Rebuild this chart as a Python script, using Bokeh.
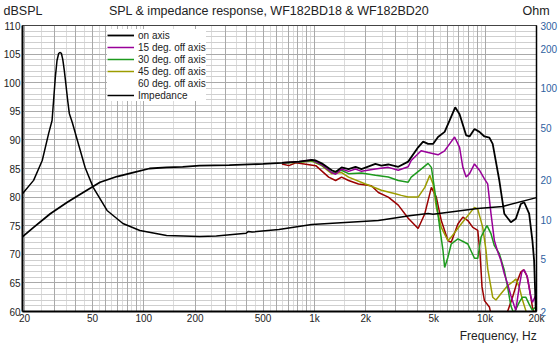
from bokeh.plotting import figure
from bokeh.models import (Range1d, LogScale, LinearScale, LogAxis, LinearAxis, FixedTicker, Grid,
                          Legend, LegendItem, CustomJSTickFormatter)
from bokeh.embed import file_html
from bokeh.resources import INLINE

# ---------------- data ----------------
f_on = [19.5, 22.6, 28.3, 35.6, 44.1, 55.4, 69.6, 86.3, 108, 136, 169, 212, 317, 500, 645, 810,
        964, 1018, 1103, 1261, 1330, 1442, 1584, 1740, 1885, 2275, 2466, 2708, 3098, 3542, 4050,
        4332, 4632, 4952, 5296, 5792, 6194, 6678, 7084, 7738, 8102, 8663, 9262, 9906, 10592,
        11074, 12113, 12954, 14152, 15130, 16182, 16937, 18110, 18928, 19365, 19784, 20000]
spl_on = [73.1, 74.7, 77.1, 79.1, 80.8, 82.6, 83.6, 84.3, 85.0, 85.2, 85.3, 85.5, 85.6, 85.8, 86.0, 86.2,
          86.5, 86.4, 85.9, 84.7, 84.4, 85.2, 84.9, 85.3, 84.9, 85.8, 85.5, 85.7, 85.3, 86.2, 88.7,
          89.7, 89.3, 89.3, 90.5, 91.4, 93.4, 95.7, 94.5, 90.8, 90.6, 91.9, 91.4, 90.6, 90.4,
          89.3, 82.9, 77.1, 75.6, 76.2, 78.8, 79.1, 77.1, 72.4, 68.9, 60.7, 59.0]

f_15 = [645, 810, 964, 1103, 1261, 1330, 1442, 1584, 1740, 1885, 2275, 2708, 3098, 3542, 3689, 4217,
        4632, 5296, 5792, 6194, 6625, 7084, 7404, 7738, 8102, 8663, 9262, 9906, 10351, 10823, 11329,
        11840, 12376, 12954, 13538, 14152, 14810, 15130, 15837, 16400, 16937, 17701, 18354, 18928,
        19784, 20000]
spl_15 = [86.0, 86.2, 86.5, 85.7, 84.3, 84.0, 84.9, 84.5, 84.9, 84.5, 84.9, 85.2, 84.7, 85.3, 86.4, 88.1,
          87.8, 87.4, 88.1, 89.3, 90.5, 88.7, 85.2, 83.5, 84.1, 85.8, 84.7, 83.2, 82.3, 77.1, 72.4,
          70.5, 68.9, 66.6, 64.8, 62.8, 61.0, 60.2, 64.3, 66.9, 67.3, 66.0, 63.1, 61.6,
          62.8, 62.0]

f_30 = [645, 810, 964, 1103, 1261, 1442, 1584, 1885, 2275, 2708, 3098, 3542, 3689, 4217, 4632, 4841,
        5066, 5418, 5662, 5792, 6054, 6328, 6924, 7574, 7919, 8663, 9053, 9464, 9683, 10258, 10823,
        11329, 12113, 12954, 13538, 14152, 14476, 14810, 15837, 16555, 17303, 18110, 18928, 19784, 20000]
spl_30 = [86.0, 86.1, 86.4, 85.6, 84.3, 84.7, 84.1, 84.2, 83.8, 83.5, 82.9, 82.6, 83.5, 84.9, 85.9, 85.2,
          81.2, 74.7, 70.7, 67.7, 69.5, 71.8, 72.7, 72.1, 71.8, 69.3, 69.3, 73.0, 73.6, 75.0, 73.6,
          71.5, 70.1, 67.2, 64.3, 61.0, 60.2, 59.8, 61.6, 62.5, 62.5, 61.3, 60.2, 60.8, 60.5]

f_45 = [645, 810, 964, 1103, 1261, 1442, 1584, 1990, 2466, 2976, 3225, 3542, 4050, 4432, 4738, 4952,
        5177, 5534, 6054, 6328, 7238, 8663, 9053, 9683, 10120, 10351, 11074, 11573, 12376, 13538,
        14810, 15130, 15837, 16555, 17303, 17701]
spl_45 = [86.0, 86.1, 86.3, 85.5, 84.1, 84.3, 83.5, 82.3, 81.2, 80.6, 80.3, 80.0, 80.0, 81.7, 83.8, 82.3,
          78.2, 74.7, 72.4, 73.0, 75.3, 78.2, 77.9, 74.7, 70.7, 67.5, 62.5, 62.0, 63.1, 64.5,
          65.4, 65.7, 64.3, 62.0, 60.2, 59.0]

f_60 = [645, 708, 778, 1018, 1211, 1330, 1442, 1584, 1811, 2156, 2368, 2708, 3098, 3542, 4050, 4432,
        4841, 5177, 5534, 6054, 6328, 6924, 7404, 7919, 8468, 9053, 9337, 9591, 9906, 10592, 11000,
        12000, 13000, 13538, 14476, 15482, 16182, 16778, 17536, 18110, 18928, 19784]
spl_60 = [85.8, 85.5, 86.0, 85.5, 83.5, 82.9, 83.5, 82.9, 82.3, 82.0, 80.8, 80.0, 78.6, 76.3, 74.5, 77.1,
          81.7, 80.0, 75.9, 72.4, 72.1, 75.3, 76.5, 75.9, 74.7, 74.2, 70.1, 64.3, 61.9, 60.8, 58.5,
          56.0, 57.5, 60.0, 62.5, 65.4, 66.9, 67.3, 66.3, 64.3, 60.8, 59.0]

f_imp = [19.5, 22.6, 25.4, 27.7, 29.0, 29.6, 30.3, 31.0, 31.7, 32.2, 32.9, 33.5, 34.2, 34.9, 35.8, 36.6,
         38.1, 41.3, 45.3, 50.5, 60.9, 75.4, 94.8, 136, 212, 266, 398, 410, 431, 619, 964, 2368, 3689,
         4632, 4952, 9053, 12650, 20000]
z_imp = [15.8, 19.9, 28.2, 45.3, 56.8, 80.7, 120.8, 162.6, 183.8, 187.0, 183.8, 165.6, 136.5, 108.7, 80.7, 64.3,
         54.9, 38.0, 24.9, 17.6, 11.74, 9.35, 8.27, 7.57, 7.44, 7.5, 7.89, 8.13, 8.05, 8.41, 9.19, 9.85, 10.75,
         11.14, 11.0, 12.16, 12.6, 14.7]

x_ticks = [20, 50, 100, 200, 500, 1000, 2000, 5000, 10000, 20000]
db_ticks = [60, 65, 70, 75, 80, 85, 90, 95, 100, 105, 110]
ohm_ticks = [2, 5, 10, 20, 50, 100, 200, 300]

labels = ["on axis", "15 deg. off axis", "30 deg. off axis", "45 deg. off axis",
          "60 deg. off axis", "Impedance"]
header_texts = ["dBSPL", "SPL & impedance response, WF182BD18 & WF182BD20", "Ohm"]
x_title = ["Frequency, Hz"]

FONT = "Liberation Sans"
W, H = 560, 345
ML, MR, MT, MB = 22, 21, 25, 34
FW = W - ML - MR

# ---------------- figure ----------------
p = figure(width=W, height=H, x_axis_type="log", title=None,
           x_range=Range1d(19.46, 20000), y_range=Range1d(60, 110),
           output_backend="svg", toolbar_location=None,
           min_border_left=ML, min_border_right=MR, min_border_top=MT, min_border_bottom=MB)
p.grid.visible = False
p.outline_line_color = "#444444"
p.outline_line_width = 1
p.background_fill_color = "white"

p.extra_y_ranges = {"ohm": Range1d(2, 300)}
p.extra_y_scales = {"ohm": LogScale()}
# pixel-like helper range used only to place the header / axis-title texts
p.extra_x_ranges = {"px": Range1d(0, FW)}
p.extra_x_scales = {"px": LinearScale()}

# grids
dark_x = [k * 10 ** n for n in (1, 2, 3, 4) for k in range(1, 10) if 20 <= k * 10 ** n <= 20000]
light_x = [(k + 0.5) * 10 ** n for n in (1, 2, 3, 4) for k in range(1, 10)
           if 20 < (k + 0.5) * 10 ** n < 20000]
p.add_layout(Grid(dimension=0, ticker=FixedTicker(ticks=light_x), grid_line_color="#dcdcdc"))
p.add_layout(Grid(dimension=1, ticker=FixedTicker(ticks=list(range(61, 110))), grid_line_color="#cfcfcf"))
p.add_layout(Grid(dimension=0, ticker=FixedTicker(ticks=dark_x), grid_line_color="#a9a9a9"))
p.add_layout(Grid(dimension=1, ticker=FixedTicker(ticks=list(range(65, 110, 5))), grid_line_color="#a9a9a9"))

# axes
xa = p.xaxis[0]
xa.ticker = FixedTicker(ticks=x_ticks, minor_ticks=[])
xa.formatter = CustomJSTickFormatter(code="return tick >= 1000 ? (tick/1000).toString() + 'k' : tick.toString();")
ya = p.yaxis[0]
ya.ticker = FixedTicker(ticks=db_ticks, minor_ticks=[])
ra = LogAxis(y_range_name="ohm", ticker=FixedTicker(ticks=ohm_ticks, minor_ticks=[]),
             formatter=CustomJSTickFormatter(code="return tick.toString();"))
p.add_layout(ra, "right")

# header texts (dBSPL / title / Ohm) as labels of a bare axis above the frame
top_ax = LinearAxis(x_range_name="px", ticker=FixedTicker(ticks=[0.5, 248, FW - 0.5], minor_ticks=[]),
                    formatter=CustomJSTickFormatter(args=dict(names=header_texts), code="return names[index];"))
p.add_layout(top_ax, "above")
# axis title below the tick labels
bot_ax = LinearAxis(x_range_name="px", ticker=FixedTicker(ticks=[FW - 38.5], minor_ticks=[]),
                    formatter=CustomJSTickFormatter(args=dict(names=x_title), code="return names[index];"))
p.add_layout(bot_ax, "below")

for ax in (xa, ya, ra, top_ax, bot_ax):
    ax.major_tick_out = 0
    ax.major_tick_in = 0
    ax.minor_tick_out = 0
    ax.minor_tick_in = 0
    ax.axis_line_color = "black"
    ax.axis_line_width = 2
    ax.major_label_text_font = FONT
    ax.major_label_text_font_size = "10px"
    ax.major_label_text_color = "#222222"
    ax.major_label_text_line_height = 1.0
xa.major_label_standoff = 1
ya.major_label_standoff = 2
ra.major_label_standoff = 4
ra.axis_line_width = 1.5
ra.major_label_text_color = "#2f5f9f"
top_ax.axis_line_color = "#444444"
top_ax.axis_line_width = 1
top_ax.major_label_standoff = 8
top_ax.major_label_text_font_size = "12.5px"
bot_ax.axis_line_color = None
bot_ax.major_label_standoff = 2
bot_ax.major_label_text_font_size = "12px"

# series
r60 = p.line(f_60, spl_60, line_color="#9a0000", line_width=1.5)
r45 = p.line(f_45, spl_45, line_color="#9c9c00", line_width=1.5)
r30 = p.line(f_30, spl_30, line_color="#1d9a1d", line_width=1.5)
r15 = p.line(f_15, spl_15, line_color="#990099", line_width=1.5)
ron = p.line(f_on, spl_on, line_color="black", line_width=1.8)
rimp = p.line(f_imp, z_imp, y_range_name="ohm", line_color="black", line_width=1.5)
r60leg = p.line([], [], line_color="#b450b4", line_width=1.5)

legend = Legend(items=[LegendItem(label=lab, renderers=[r]) for lab, r in
                       zip(labels, [ron, r15, r30, r45, r60leg, rimp])],
                location=(85, 210), orientation="vertical",
                glyph_width=27, glyph_height=12, label_height=12, label_standoff=4,
                spacing=0, padding=3, margin=0,
                label_text_font=FONT, label_text_font_size="10px", label_text_color="#222222",
                border_line_color=None, background_fill_color="white", background_fill_alpha=1.0)
p.add_layout(legend)

open("out.html", "w").write(file_html(p, INLINE))
